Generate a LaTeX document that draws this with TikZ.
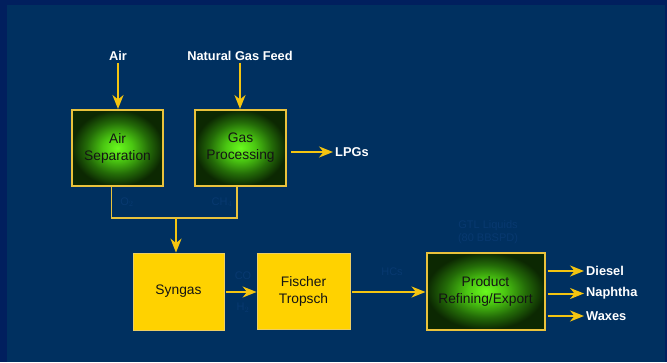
\documentclass[tikz,border=0pt]{standalone}
\usepackage{fontspec}
\setmainfont{Liberation Sans}
\usetikzlibrary{arrows.meta}

\definecolor{frame}{HTML}{011F5E}
\definecolor{panel}{HTML}{003060}
\definecolor{flow}{HTML}{F4C410}
\definecolor{rim}{HTML}{E9C23C}
\definecolor{gold}{HTML}{FFD200}
\definecolor{ghost}{HTML}{083970}
\definecolor{ink}{HTML}{141414}

% glowing green process unit
\pgfdeclareradialshading{glow}{\pgfpoint{0bp}{0bp}}{%
  color(0bp)=(rgb,255:red,105;green,250;blue,30);
  color(8bp)=(rgb,255:red,75;green,200;blue,18);
  color(17bp)=(rgb,255:red,36;green,108;blue,8);
  color(25bp)=(rgb,255:red,12;green,40;blue,2);
  color(50bp)=(rgb,255:red,12;green,40;blue,2)}

\tikzset{
  unit/.style={draw=rim, line width=2pt, shading=glow, text=ink,
    align=center, font=\fontsize{13.8}{17}\selectfont, inner sep=0pt},
  goldbox/.style={draw=rim!80!white, line width=0.8pt, fill=gold, text=ink,
    align=center, font=\fontsize{13.8}{17}\selectfont, inner sep=0pt},
  stream/.style={text=white, font=\bfseries\fontsize{12.8}{15}\selectfont, inner sep=2pt},
  faint/.style={text=ghost, font=\fontsize{11}{13}\selectfont, align=center, inner sep=0pt},
  arr/.style={draw=flow, line width=2pt,
    -{Stealth[length=14pt,width=11pt,inset=4.5pt]}},
  tie/.style={draw=rim, line width=1.5pt}
}

\begin{document}
\begin{tikzpicture}[x=1pt,y=-1pt]
\useasboundingbox (0,0) rectangle (667,362);
\fill[frame] (0,0) rectangle (667,362);
\fill[panel] (7,5) rectangle (665,362);

% hidden stream annotations
\node[faint] at (127,202) {O$_2$};
\node[faint] at (222,202) {CH$_4$};
\node[faint] at (243,276) {CO};
\node[faint] at (243,308) {H$_2$};
\node[faint] at (392,272) {HCs};
\node[faint] at (488,232) {GTL Liquids\\(80 BBSPD)};

% process units
\node[unit, minimum width=91pt, minimum height=76pt] (airsep) at (117.5,148) {Air\\Separation};
\node[unit, minimum width=91pt, minimum height=76pt] (gasproc) at (240.5,148) {Gas\\Processing};
\node[goldbox, minimum width=91pt, minimum height=77pt] (syngas) at (178.5,291.5) {Syngas};
\node[goldbox, minimum width=93pt, minimum height=76pt] (ft) at (303.5,291) {Fischer\\Tropsch};
\node[unit, minimum width=118pt, minimum height=77pt] (refine) at (485.5,291) {Product\\Refining/Export};

% feed and product labels
\node[stream] (air) at (118,56) {Air};
\node[stream] (feed) at (240,56) {Natural Gas Feed};
\node[stream, anchor=west] (lpgs) at (333,152) {LPGs};
\node[stream, anchor=west] (diesel) at (584,271) {Diesel};
\node[stream, anchor=west] (naphtha) at (584,293.5) {Naphtha};
\node[stream, anchor=west] (waxes) at (584,316) {Waxes};

% feeds
\draw[arr] (air.south) -- (air.south |- airsep.north);
\draw[arr] (feed.south) -- (feed.south |- gasproc.north);
\draw[arr] ([xshift=4pt]gasproc.east |- lpgs.west) -- (lpgs.west);

% oxygen and methane combine into syngas
\coordinate (join) at (176,218);
\draw[tie] ([xshift=-6pt]airsep.south) |- (join) -| ([xshift=-3.5pt]gasproc.south);
\draw[arr] (join) -- (join |- syngas.north);

% main train
\draw[arr] ([xshift=2pt]syngas.east |- 0,292) -- (ft.west |- 0,292);
\draw[arr] ([xshift=2pt]ft.east |- 0,292) -- (refine.west |- 0,292);

% products
\draw[arr] ([xshift=2pt]refine.east |- diesel.west) -- (diesel.west);
\draw[arr] ([xshift=2pt]refine.east |- naphtha.west) -- (naphtha.west);
\draw[arr] ([xshift=2pt]refine.east |- waxes.west) -- (waxes.west);
\end{tikzpicture}
\end{document}
